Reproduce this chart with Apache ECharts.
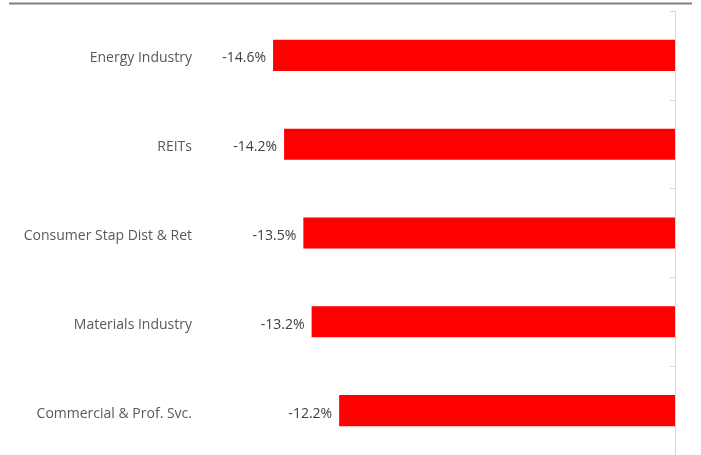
<!DOCTYPE html>
<html lang="en">
<head>
    <meta charset="UTF-8">
    <title>Sector returns</title>
    <script src="https://cdn.jsdelivr.net/npm/echarts@6/dist/echarts.min.js"></script>
    <style>
        html, body { margin: 0; padding: 0; background: #fff; }
        #main { width: 701px; height: 455px; }
    </style>
</head>
<body>
<div id="main"></div>
<script type="text/javascript">
    // 数据
    var categories = ['Energy Industry', 'REITs', 'Consumer Stap Dist & Ret', 'Materials Industry', 'Commercial & Prof. Svc.'];
    var returns = [-14.6, -14.2, -13.5, -13.2, -12.2];

    var myChart = echarts.init(document.getElementById('main'));

    var option = {
        animation: false,
        textStyle: { fontFamily: 'Open Sans' },
        grid: {
            left: 207,
            right: 26,
            top: 11,
            bottom: -1
        },
        graphic: [
            {
                type: 'line',
                shape: { x1: 9, y1: 3.5, x2: 692, y2: 3.5 },
                style: { stroke: '#808080', lineWidth: 2 }
            }
        ],
        xAxis: {
            type: 'value',
            min: -17,
            max: 0,
            show: false
        },
        yAxis: [
            {
                type: 'category',
                position: 'left',
                inverse: true,
                data: categories,
                axisLine: { show: false },
                axisTick: { show: false },
                axisLabel: {
                    margin: 15,
                    formatter: function (v) { return '{a|' + v + '}'; },
                    rich: {
                        a: {
                            color: '#595959',
                            fontSize: 14,
                            fontFamily: 'Open Sans',
                            padding: [6, 0, 0, 0]
                        }
                    }
                }
            },
            {
                type: 'category',
                position: 'right',
                inverse: true,
                data: categories,
                axisLine: { show: true, lineStyle: { color: '#d9d9d9', width: 1 } },
                axisTick: { show: true, inside: true, length: 5, lineStyle: { color: '#d9d9d9' } },
                axisLabel: { show: false }
            }
        ],
        series: [
            {
                type: 'bar',
                yAxisIndex: 0,
                data: returns,
                barCategoryGap: '65%',
                itemStyle: { color: '#ff0000' },
                label: {
                    show: true,
                    position: 'left',
                    distance: 7,
                    offset: [0, 3],
                    color: '#404040',
                    fontSize: 14,
                    formatter: function (p) { return p.value.toFixed(1) + '%'; }
                }
            }
        ]
    };

    myChart.setOption(option);
</script>
</body>
</html>
